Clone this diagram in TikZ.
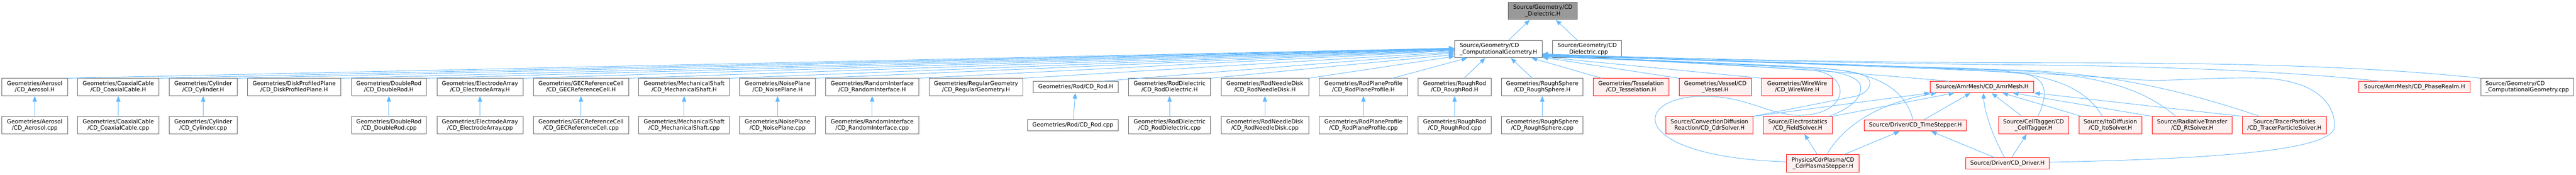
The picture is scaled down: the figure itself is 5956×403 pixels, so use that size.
\documentclass[tikz,border=0pt]{standalone}
\usepackage{fontspec}
\setmainfont{DejaVu Sans}
\usetikzlibrary{arrows.meta}
\definecolor{edgec}{HTML}{63B8FF}
\definecolor{greyforty}{HTML}{666666}
\definecolor{greysixty}{HTML}{999999}
\definecolor{trfill}{HTML}{FFF0F0}
\begin{document}
\begin{tikzpicture}[x=1pt,y=-1pt]
\tikzset{
 nb/.style={draw=greyforty, fill=white, line width=1.1pt, inner sep=0pt, align=center, font=\fontsize{13}{15}\selectfont},
 nl/.style={nb, align=left},
 nr/.style={nb, draw=red, fill=trfill},
 nroot/.style={nb, fill=greysixty},
 dep/.style={draw=edgec, line width=1.1pt, -{Triangle[length=13pt,width=10pt]}},
}
\useasboundingbox (0,0) rectangle (5956,403);
% top
\node[nroot,minimum width=159,minimum height=40] (diel) at (3567.2,25.2) {Source/Geometry/CD\\\_Dielectric.H};
\node[nl,minimum width=202.3,minimum height=40] (cg) at (3464.5,113.3) {Source/Geometry/CD\\\_ComputationalGeometry.H};
\node[nb,minimum width=159.3,minimum height=40] (dielcpp) at (3669.7,113.3) {Source/Geometry/CD\\\_Dielectric.cpp};
% row 1
\node[nb,minimum width=151.5,minimum height=40] (aer) at (80.3,201) {Geometries/Aerosol\\/CD\_Aerosol.H};
\node[nb,minimum width=189,minimum height=40] (coax) at (273.5,201) {Geometries/CoaxialCable\\/CD\_CoaxialCable.H};
\node[nb,minimum width=156.5,minimum height=40] (cyl) at (469.8,201) {Geometries/Cylinder\\/CD\_Cylinder.H};
\node[nb,minimum width=216,minimum height=40] (disk) at (680.2,201) {Geometries/DiskProfiledPlane\\/CD\_DiskProfiledPlane.H};
\node[nb,minimum width=173.2,minimum height=40] (drod) at (899.1,201) {Geometries/DoubleRod\\/CD\_DoubleRod.H};
\node[nb,minimum width=198.7,minimum height=40] (elec) at (1109.7,201) {Geometries/ElectrodeArray\\/CD\_ElectrodeArray.H};
\node[nb,minimum width=220.6,minimum height=40] (gec) at (1343.3,201) {Geometries/GECReferenceCell\\/CD\_GECReferenceCell.H};
\node[nb,minimum width=209.6,minimum height=40] (mech) at (1581.8,201) {Geometries/MechanicalShaft\\/CD\_MechanicalShaft.H};
\node[nb,minimum width=175,minimum height=40] (noise) at (1797.8,201) {Geometries/NoisePlane\\/CD\_NoisePlane.H};
\node[nb,minimum width=215,minimum height=40] (rand) at (2016.5,201) {Geometries/RandomInterface\\/CD\_RandomInterface.H};
\node[nb,minimum width=217.8,minimum height=40] (reg) at (2256.7,201) {Geometries/RegularGeometry\\/CD\_RegularGeometry.H};
\node[nb,minimum width=196,minimum height=26] (rod) at (2487.3,201) {Geometries/Rod/CD\_Rod.H};
\node[nb,minimum width=189.6,minimum height=40] (rdiel) at (2704.2,201) {Geometries/RodDielectric\\/CD\_RodDielectric.H};
\node[nb,minimum width=202.7,minimum height=40] (rneedle) at (2924.6,201) {Geometries/RodNeedleDisk\\/CD\_RodNeedleDisk.H};
\node[nb,minimum width=204,minimum height=40] (rplane) at (3152.4,201) {Geometries/RodPlaneProfile\\/CD\_RodPlaneProfile.H};
\node[nb,minimum width=168.3,minimum height=40] (rrod) at (3363.2,201) {Geometries/RoughRod\\/CD\_RoughRod.H};
\node[nb,minimum width=188.3,minimum height=40] (rsph) at (3565.8,201) {Geometries/RoughSphere\\/CD\_RoughSphere.H};
\node[nr,minimum width=174.6,minimum height=40] (tess) at (3771.2,201) {Geometries/Tesselation\\/CD\_Tesselation.H};
\node[nr,minimum width=167,minimum height=40] (vessel) at (3965.9,201) {Geometries/Vessel/CD\\\_Vessel.H};
\node[nr,minimum width=163.1,minimum height=40] (wire) at (4155.2,201) {Geometries/WireWire\\/CD\_WireWire.H};
\node[nr,minimum width=239.6,minimum height=26] (amr) at (4582.9,201) {Source/AmrMesh/CD\_AmrMesh.H};
\node[nr,minimum width=257.2,minimum height=26] (phase) at (5582.8,201) {Source/AmrMesh/CD\_PhaseRealm.H};
\node[nl,minimum width=214.8,minimum height=40] (cgcpp) at (5843.1,201) {Source/Geometry/CD\\\_ComputationalGeometry.cpp};
% row 2
\node[nb,minimum width=151.5,minimum height=40] (aercpp) at (80.3,289) {Geometries/Aerosol\\/CD\_Aerosol.cpp};
\node[nb,minimum width=189,minimum height=40] (coaxcpp) at (273.5,289) {Geometries/CoaxialCable\\/CD\_CoaxialCable.cpp};
\node[nb,minimum width=156.5,minimum height=40] (cylcpp) at (469.8,289) {Geometries/Cylinder\\/CD\_Cylinder.cpp};
\node[nb,minimum width=173.2,minimum height=40] (drodcpp) at (899.1,289) {Geometries/DoubleRod\\/CD\_DoubleRod.cpp};
\node[nb,minimum width=198.7,minimum height=40] (eleccpp) at (1109.7,289) {Geometries/ElectrodeArray\\/CD\_ElectrodeArray.cpp};
\node[nb,minimum width=220.6,minimum height=40] (geccpp) at (1343.3,289) {Geometries/GECReferenceCell\\/CD\_GECReferenceCell.cpp};
\node[nb,minimum width=209.6,minimum height=40] (mechcpp) at (1581.8,289) {Geometries/MechanicalShaft\\/CD\_MechanicalShaft.cpp};
\node[nb,minimum width=175,minimum height=40] (noisecpp) at (1797.8,289) {Geometries/NoisePlane\\/CD\_NoisePlane.cpp};
\node[nb,minimum width=215,minimum height=40] (randcpp) at (2016.5,289) {Geometries/RandomInterface\\/CD\_RandomInterface.cpp};
\node[nb,minimum width=209.4,minimum height=26] (rodcpp) at (2480.6,289.3) {Geometries/Rod/CD\_Rod.cpp};
\node[nb,minimum width=189.6,minimum height=40] (rdielcpp) at (2704.2,289) {Geometries/RodDielectric\\/CD\_RodDielectric.cpp};
\node[nb,minimum width=202.7,minimum height=40] (rneedlecpp) at (2924.6,289) {Geometries/RodNeedleDisk\\/CD\_RodNeedleDisk.cpp};
\node[nb,minimum width=204,minimum height=40] (rplanecpp) at (3152.4,289) {Geometries/RodPlaneProfile\\/CD\_RodPlaneProfile.cpp};
\node[nb,minimum width=168.3,minimum height=40] (rrodcpp) at (3363.2,289) {Geometries/RoughRod\\/CD\_RoughRod.cpp};
\node[nb,minimum width=188.3,minimum height=40] (rsphcpp) at (3565.8,289) {Geometries/RoughSphere\\/CD\_RoughSphere.cpp};
\node[nr,minimum width=201.6,minimum height=40] (cdr) at (3952.4,289) {Source/ConvectionDiffusion\\Reaction/CD\_CdrSolver.H};
\node[nr,minimum width=158.9,minimum height=40] (field) at (4156.5,289) {Source/Electrostatics\\/CD\_FieldSolver.H};
\node[nr,minimum width=236.1,minimum height=26] (tstep) at (4428.6,289.5) {Source/Driver/CD\_TimeStepper.H};
\node[nr,minimum width=161.7,minimum height=40] (cell) at (4701.8,289) {Source/CellTagger/CD\\\_CellTagger.H};
\node[nr,minimum width=145.8,minimum height=40] (ito) at (4879.4,289) {Source/ItoDiffusion\\/CD\_ItoSolver.H};
\node[nr,minimum width=184.9,minimum height=40] (rt) at (5068.5,289) {Source/RadiativeTransfer\\/CD\_RtSolver.H};
\node[nr,minimum width=194.4,minimum height=40] (tps) at (5281.8,289) {Source/TracerParticles\\/CD\_TracerParticleSolver.H};
% row 3
\node[nr,minimum width=168,minimum height=40] (cdrp) at (4214.8,377.3) {Physics/CdrPlasma/CD\\\_CdrPlasmaStepper.H};
\node[nr,minimum width=193.9,minimum height=26] (driver) at (4641.5,377.2) {Source/Driver/CD\_Driver.H};

% edges to root
\draw[dep] ([xshift=23.5]cg.north) -- ([xshift=-30]diel.south);
\draw[dep] ([xshift=-22.7]dielcpp.north) -- ([xshift=30]diel.south);

% cpp -> H
\foreach \a in {aer,coax,cyl,drod,elec,gec,mech,noise,rand,rod,rdiel,rneedle,rplane,rrod,rsph}
  \draw[dep] (\a cpp) -- (\a);

% row 1 -> cg (left fan)
\draw[dep] (aer.north east) -- ([yshift=2.3]cg.west);
\draw[dep] (coax.north east) -- ([yshift=1.8]cg.west);
\draw[dep] (cyl.north east) -- ([yshift=1.3]cg.west);
\draw[dep] (disk.north east) -- ([yshift=0.8]cg.west);
\draw[dep] (drod.north east) -- ([yshift=0.3]cg.west);
\draw[dep] (elec.north east) -- ([yshift=-0.2]cg.west);
\draw[dep] (gec.north east) -- ([yshift=-0.7]cg.west);
\draw[dep] (mech.north east) -- ([yshift=-1.7]cg.west);
\draw[dep] (noise.north east) -- ([yshift=-2.7]cg.west);
\draw[dep] (rand.north east) -- ([yshift=-3.7]cg.west);
\draw[dep] (reg.north east) -- ([yshift=-6.7]cg.west);
\draw[dep] ([xshift=61.4]rod.north) -- ([yshift=-8.7]cg.west);
\draw[dep] (rdiel.north east) -- ([yshift=-12.7]cg.west);
\draw[dep] (rneedle.north east) -- ([yshift=-16.7]cg.west);
\draw[dep] ([xshift=67.2]rplane.north) -- ([xshift=-72]cg.south);
\draw[dep] ([xshift=21.8]rrod.north) -- ([xshift=-30.5]cg.south);
\draw[dep] ([xshift=-22.8]rsph.north) -- ([xshift=28.5]cg.south);
\draw[dep] ([xshift=-68.2]tess.north) -- ([xshift=76.5]cg.south);
\draw[dep] (vessel.north west) -- ([yshift=-19]cg.east);
\draw[dep] (wire.north west) -- ([yshift=-18]cg.east);

% right side -> cg
\draw[dep] ([xshift=-76.9]amr.north) .. controls (4300,168) and (3900,140) .. ([yshift=-17]cg.east);
\draw[dep] (cdr.north east) -- (4291,222) .. controls (4322,214) and (4334,188) .. (4312,175) .. controls (4280,158) and (4150,152) .. (3900,143) .. controls (3750,138) and (3650,134) .. ([yshift=-16]cg.east);
\draw[dep] ([xshift=71.5]field.north) .. controls (4280,250) and (4305,225) .. (4302,200) .. controls (4298,172) and (4240,160) .. (4100,153) .. controls (3900,143) and (3700,134) .. ([yshift=-15.5]cg.east);
\draw[dep] ([yshift=4]cdrp.west) .. controls (3760,362) and (3770,222) .. (3940,222) .. controls (4040,222) and (4090,266) .. (4160,266) .. controls (4275,266) and (4285,172) .. (4190,162) .. controls (4000,150) and (3750,137) .. ([yshift=-15]cg.east);
\draw[dep] ([xshift=-5.6]tstep.north) .. controls (4405,210) and (4350,170) .. (4220,158) .. controls (4000,146) and (3750,136) .. ([yshift=-14.5]cg.east);
\draw[dep] ([xshift=10]cell.north) .. controls (4732,225) and (4740,182) .. (4680,170) .. controls (4450,150) and (3900,138) .. ([yshift=-14]cg.east);
\draw[dep] ([xshift=-18.4]ito.north) .. controls (4820,200) and (4740,168) .. (4560,158) .. controls (4200,148) and (3850,137) .. ([yshift=-13.5]cg.east);
\draw[dep] ([xshift=-37.5]rt.north) .. controls (4960,210) and (4880,180) .. (4700,165) .. controls (4300,150) and (3850,137) .. ([yshift=-13]cg.east);
\draw[dep] ([xshift=-56.8]tps.north) .. controls (5050,210) and (4900,175) .. (4700,163) .. controls (4300,150) and (3850,137) .. ([yshift=-12.5]cg.east);
\draw[dep] ([yshift=3]driver.east) .. controls (5150,366) and (5400,345) .. (5398,290) .. controls (5396,222) and (5330,182) .. (5220,180) .. controls (5090,178) and (5010,190) .. (4930,183) .. controls (4600,158) and (3900,140) .. ([yshift=-12]cg.east);
\draw[dep] ([xshift=-80]phase.north) .. controls (5300,165) and (5000,153) .. (4700,150) .. controls (4300,146) and (3850,136) .. ([yshift=-11.5]cg.east);
\draw[dep] (cgcpp.north west) .. controls (5450,150) and (5100,145) .. (4750,145) .. controls (4300,145) and (3850,135) .. ([yshift=-11]cg.east);

% edges to amr
\draw[dep] (cdr.north east) -- (amr.south west);
\draw[dep] ([xshift=9.2]cdrp.north) .. controls (4255,300) and (4330,240) .. ([xshift=15]amr.south west);
\draw[dep] (field.north east) -- ([xshift=56]amr.south west);
\draw[dep] ([xshift=20.4]tstep.north) -- ([xshift=-27]amr.south);
\draw[dep] ([xshift=-6.5]driver.north) .. controls (4610,320) and (4588,260) .. ([xshift=3]amr.south);
\draw[dep] ([xshift=-27]cell.north) -- ([xshift=22]amr.south);
\draw[dep] ([xshift=7]ito.north west) -- ([xshift=47]amr.south);
\draw[dep] (rt.north west) -- ([xshift=71]amr.south);
\draw[dep] (tps.north west) -- (amr.south east);

% other
\draw[dep] ([xshift=-29.5]driver.north) -- ([xshift=36.4]tstep.south);
\draw[dep] ([xshift=48]cdrp.north) -- ([xshift=-36.6]tstep.south);
\draw[dep] ([xshift=9.5]driver.north) -- ([xshift=-16]cell.south);
\draw[dep] ([xshift=-13]cdrp.north) -- ([xshift=15.5]field.south);
\end{tikzpicture}
\end{document}
